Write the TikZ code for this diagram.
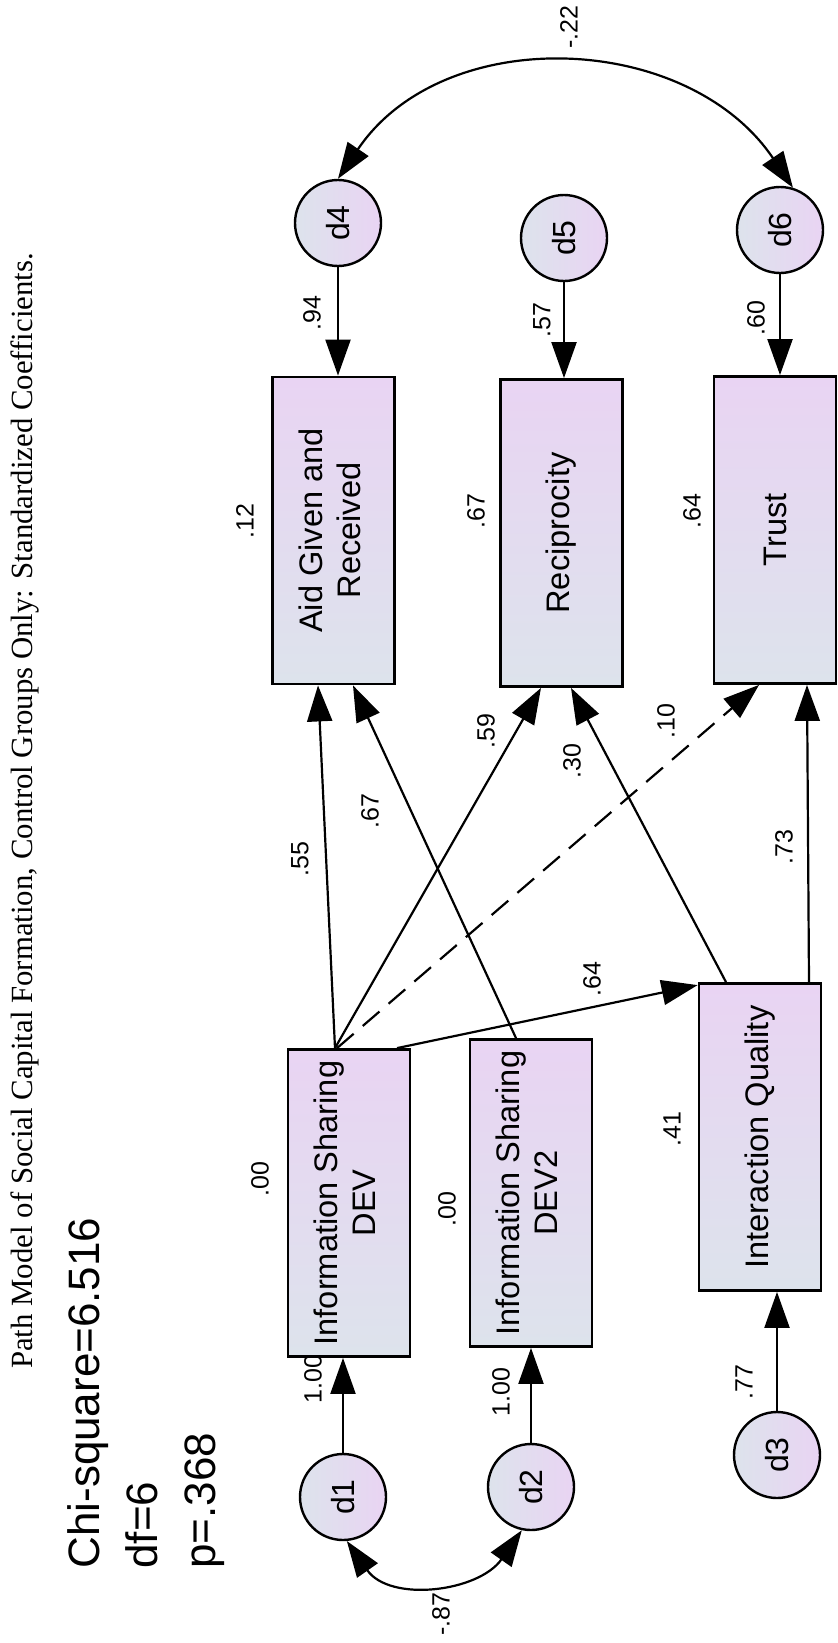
\documentclass[tikz,border=0pt]{standalone}
\usepackage{fontspec}
\setmainfont{Liberation Serif}
\setsansfont{Liberation Sans}
\usepackage{graphicx}
\usepackage{tikz}
\usetikzlibrary{arrows.meta,calc}
\definecolor{lav}{RGB}{233,212,243}
\definecolor{gbl}{RGB}{221,227,236}
\newcommand{\vtxt}[1]{\rotatebox{90}{#1}}
\tikzset{
  obs/.style={draw, line width=1.4pt, top color=lav, bottom color=gbl, inner sep=0pt,
    minimum width=61pt, minimum height=153.5pt, font=\sffamily\fontsize{16.3}{19}\selectfont},
  res/.style={circle, draw, line width=1.2pt, minimum size=43pt, inner sep=0pt,
    left color=gbl, right color=lav, font=\sffamily\fontsize{16}{18}\selectfont},
  coef/.style={inner sep=0pt, font=\sffamily\fontsize{12.5}{14}\selectfont},
  eff/.style={line width=1.1pt, -{Triangle[length=18pt,width=12.5pt]}},
  cov/.style={line width=1.1pt, {Triangle[length=18pt,width=12.5pt]}-{Triangle[length=18pt,width=12.5pt]}},
}
\begin{document}
\begin{tikzpicture}[x=0.5pt, y=0.5pt]
 \useasboundingbox (0,0) rectangle (838,-1643);
 % heading and fit
 \node[font=\fontsize{15.4}{18}\selectfont] (title) at (25,-811)
   {\vtxt{Path Model of Social Capital Formation, Control Groups Only: Standardized Coefficients.}};
 \node[anchor=south, inner sep=0pt, font=\sffamily\fontsize{22}{29}\selectfont] (fit) at (146,-1569)
   {\vtxt{\begin{tabular}{@{}l@{}}Chi-square=6.516\\df=6\\p=.368\end{tabular}}};
 % observed variables
 \node[obs] (aid) at (333.5,-530.5) {\vtxt{\begin{tabular}{@{}c@{}}Aid Given and\\Received\end{tabular}}};
 \node[obs] (rec) at (561.5,-533) {\vtxt{Reciprocity}};
 \node[obs] (tru) at (775,-530) {\vtxt{Trust}};
 \node[obs] (dev1) at (349,-1203) {\vtxt{\begin{tabular}{@{}c@{}}Information Sharing\\DEV\end{tabular}}};
 \node[obs] (dev2) at (531,-1193) {\vtxt{\begin{tabular}{@{}c@{}}Information Sharing\\DEV2\end{tabular}}};
 \node[obs] (iq) at (760,-1137) {\vtxt{Interaction Quality}};
 % residuals
 \node[res] (d1) at (343,-1497) {\vtxt{d1}};
 \node[res] (d2) at (531,-1487) {\vtxt{d2}};
 \node[res] (d3) at (777,-1455) {\vtxt{d3}};
 \node[res] (d4) at (338,-223) {\vtxt{d4}};
 \node[res] (d5) at (564,-238) {\vtxt{d5}};
 \node[res] (d6) at (780,-230) {\vtxt{d6}};
 % paths
 \draw[eff] ([xshift=-7pt]dev1.north) -- ([xshift=-7.75pt]aid.south);
 \draw[eff] ([xshift=-7pt]dev1.north) -- ([xshift=-10.25pt]rec.south);
 \draw[eff, dash pattern=on 11pt off 6pt] ([xshift=-6pt]dev1.north) -- ([xshift=-8pt]tru.south);
 \draw[eff] ([xshift=24pt]dev1.north) -- ([yshift=-1.5pt]iq.north west);
 \draw[eff] ([xshift=-7.5pt]dev2.north) -- ([xshift=9.75pt]aid.south);
 \draw[eff] ([xshift=-17pt]iq.north) -- ([xshift=4.75pt]rec.south);
 \draw[eff] ([xshift=24.5pt]iq.north) -- ([xshift=16pt]tru.south);
 \draw[eff] (d1) -- (d1 |- dev1.south);
 \draw[eff] (d2) -- (d2 |- dev2.south);
 \draw[eff] (d3) -- (d3 |- iq.south);
 \draw[eff] (d4) -- (d4 |- aid.north);
 \draw[eff] (d5) -- (d5 |- rec.north);
 \draw[eff] (d6) -- (d6 |- tru.north);
 \draw[cov] (d4.north) to[out=56, in=124, looseness=1.06] (d6.73);
 \draw[cov] (d1.-85) to[out=-55, in=-125, looseness=1.1] (d2.-102);
 % coefficients
 \foreach \t/\x/\y [count=\i] in {-.22/569/27, -.87/441/1614, .94/312/313, .57/542/320, .60/756/318,
     .12/245/521, .67/476/511, .64/692/511, .55/300/859, .67/370/811, .59/486/731, .30/572/761,
     .10/666/721, .64/592/979, .73/784/847, .00/260/1179, .00/447/1209, .41/672/1129,
     1.00/313/1379, 1.00/501/1392, .77/744/1382}
   \node[coef] (c\i) at (\x,-\y) {\vtxt{\t}};
\end{tikzpicture}
\end{document}
